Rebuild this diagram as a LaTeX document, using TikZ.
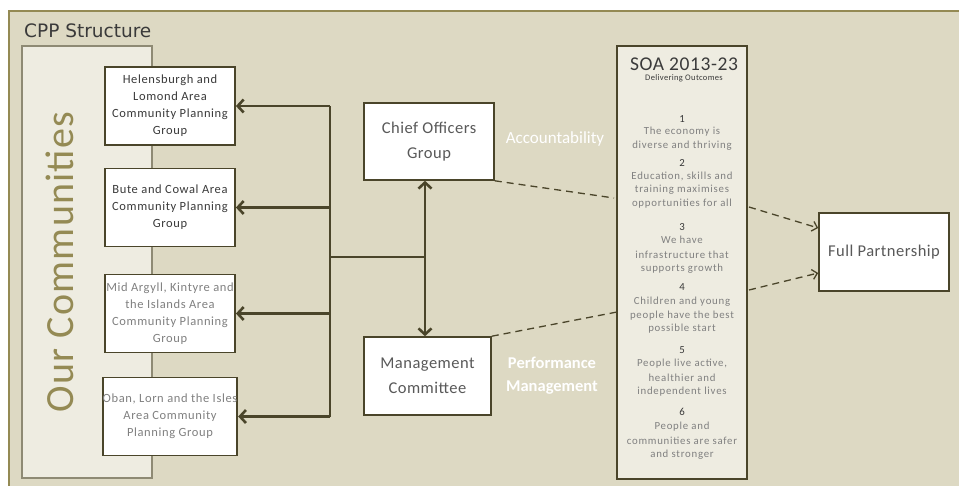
\documentclass[tikz,border=0pt]{standalone}
\usepackage{fontspec}
\setmainfont{Carlito}
\newfontfamily\dejavu{DejaVu Sans}
\usetikzlibrary{arrows.meta}
\definecolor{tanbg}{HTML}{DDD9C3}
\definecolor{panel}{HTML}{EEECE1}
\definecolor{olive}{HTML}{948A54}
\definecolor{darkol}{HTML}{4A452A}
\definecolor{panelbd}{HTML}{8E8A74}
\definecolor{txtdark}{HTML}{3A3A3A}
\definecolor{txtmid}{HTML}{595959}
\definecolor{txtlight}{HTML}{808080}
\tikzset{
  areabox/.style={draw=darkol, line width=1.8pt, fill=white, minimum width=130pt, minimum height=78pt, align=center, inner sep=0pt,
     font=\fontsize{12.5}{17}\selectfont\addfontfeature{LetterSpace=5}},
  bigbox/.style={draw=darkol, line width=1.6pt, fill=white, align=center, inner sep=0pt, text=txtmid,
     font=\fontsize{16.5}{25}\selectfont\addfontfeature{LetterSpace=3}},
  trunk/.style={draw=darkol, line width=2.6pt},
  arr/.style={trunk, -{Straight Barb[length=6pt,width=13pt]}},
  darr/.style={trunk, {Straight Barb[length=6pt,width=13pt]}-{Straight Barb[length=6pt,width=13pt]}},
  dashline/.style={draw=darkol, line width=1.3pt, dash pattern=on 7pt off 5pt},
  dasharr/.style={dashline, -{Straight Barb[length=5pt,width=10pt]}},
  whitelbl/.style={text=white, align=center, inner sep=0pt, font=\fontsize{17}{24}\selectfont},
  soa/.style={text=txtlight, font=\fontsize{10.8}{14}\selectfont\addfontfeature{LetterSpace=7}, inner sep=0pt}
}
\begin{document}
\begin{tikzpicture}[x=1pt,y=-1pt]
\useasboundingbox (0,0) rectangle (959,485);
\fill[white] (0,0) rectangle (959,485);
% outer frame
\draw[olive, fill=tanbg, line width=2.6pt] (9,11) rectangle (1000,520);
\node[anchor=west, inner sep=0pt, text=txtdark, font=\dejavu\fontsize{18.5}{20}\selectfont] (title) at (24,31) {CPP Structure};
% panel
\draw[panelbd, fill=panel, line width=1.5pt] (22,46) rectangle (152,478);
\node[rotate=90, inner sep=0pt, text=olive, font=\fontsize{40}{40}\selectfont\addfontfeature{LetterSpace=3}] (ourc) at (60,262) {Our Communities};
% area boxes
\node[areabox, text=txtdark] (b1) at (170,106) {Helensburgh and\\Lomond Area\\Community Planning\\Group};
\node[areabox, text=txtdark] (b2) at (170,207.5) {Bute and Cowal Area\\Community Planning\\Group};
\node[areabox, text=txtlight] (b3) at (170,313.5) {Mid Argyll, Kintyre and\\the Islands Area\\Community Planning\\Group};
\node[areabox, text=txtlight] (b4) at (170,416.5) {Oban, Lorn and the Isles\\Area Community\\Planning Group};
% central boxes
\node[bigbox, minimum width=130pt, minimum height=77pt] (chief) at (429,141.5) {Chief Officers\\Group};
\node[bigbox, minimum width=127pt, minimum height=78pt] (mgmt) at (427.5,376) {Management\\Committee};
% SOA
\node[draw=darkol, line width=1.3pt, fill=panel, minimum width=130pt, minimum height=433pt, inner sep=0pt] (soabox) at (682,262.5) {};
\node[anchor=base, text=txtdark, inner sep=0pt, font=\fontsize{19.5}{20}\selectfont\addfontfeature{LetterSpace=3}] (soat) at (684,70) {SOA 2013-23};
\node[anchor=base, text=txtdark, inner sep=0pt, font=\fontsize{8.5}{10}\selectfont\addfontfeature{LetterSpace=4}] (soas) at (684,80) {Delivering Outcomes};
\node[soa, text=txtdark] (n1) at (682,119) {1};
\node[soa] (s1a) at (682,132) {The economy is};
\node[soa] (s1b) at (682,146) {diverse and thriving};
\node[soa, text=txtdark] (n2) at (682,163) {2};
\node[soa] (s2a) at (682,176) {Education, skills and};
\node[soa] (s2b) at (682,190) {training maximises};
\node[soa] (s2c) at (682,204) {opportunities for all};
\node[soa, text=txtdark] (n3) at (682,227) {3};
\node[soa] (s3a) at (682,240) {We have};
\node[soa] (s3b) at (682,255) {infrastructure that};
\node[soa] (s3c) at (682,269) {supports growth};
\node[soa, text=txtdark] (n4) at (682,287) {4};
\node[soa] (s4a) at (682,302) {Children and young};
\node[soa] (s4b) at (682,316) {people have the best};
\node[soa] (s4c) at (682,329) {possible start};
\node[soa, text=txtdark] (n5) at (682,350) {5};
\node[soa] (s5a) at (682,364) {People live active,};
\node[soa] (s5b) at (682,378) {healthier and};
\node[soa] (s5c) at (682,392) {independent lives};
\node[soa, text=txtdark] (n6) at (682,412) {6};
\node[soa] (s6a) at (682,427) {People and};
\node[soa] (s6b) at (682,441) {communities are safer};
\node[soa] (s6c) at (682,455) {and stronger};
% full partnership
\node[bigbox, minimum width=130pt, minimum height=78pt] (full) at (884,252) {Full Partnership};
% white labels
\node[whitelbl] (acc) at (555,139) {Accountability};
\node[whitelbl, font=\bfseries\fontsize{16.5}{23}\selectfont] (perf) at (552,376) {Performance\\Management};
% trunk
\coordinate (tr) at (330,0);
\coordinate (mid) at (425,257);
\draw[trunk] (b1.east -| tr) -- (b4.east -| tr);
\draw[trunk] (mid -| tr) -- (mid);
\draw[arr] (b1.east -| tr) -- (b1.east);
\draw[arr] (b2.east -| tr) -- (b2.east);
\draw[arr] (b3.east -| tr) -- (b3.east);
\draw[arr] (b4.east -| tr) -- (b4.east);
\draw[darr] (chief.south -| mid) -- (mgmt.north -| mid);
% dashed
\coordinate (sa) at (614,198);
\coordinate (sb) at (617,312);
\coordinate (sc) at (749,207);
\coordinate (sd) at (749,290);
\draw[dashline] (chief.south east) -- (sa);
\draw[dashline] (mgmt.north east) -- (sb);
\draw[dasharr] (sc) -- (full.west |- 0,228);
\draw[dasharr] (sd) -- (full.west |- 0,273);
\end{tikzpicture}
\end{document}
